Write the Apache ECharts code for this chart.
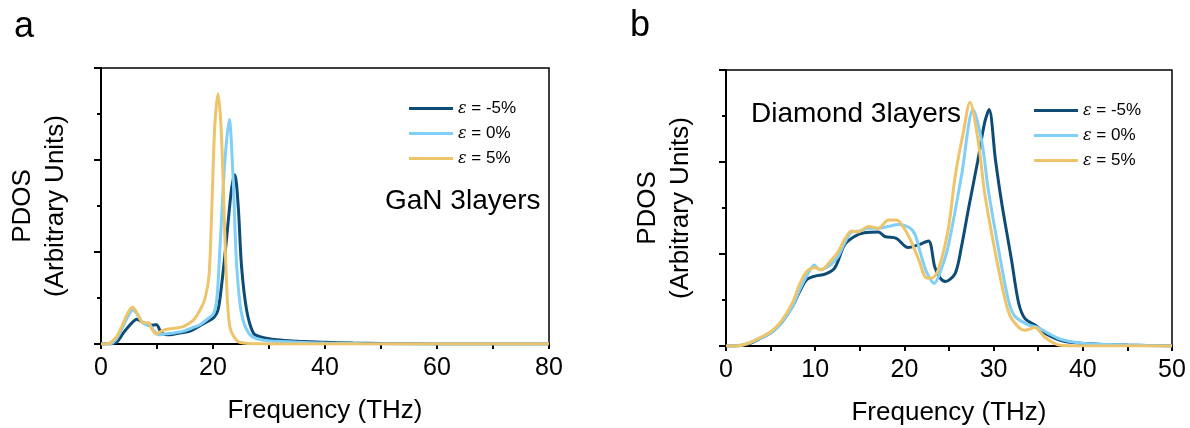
<!DOCTYPE html>
<html>
<head>
<meta charset="utf-8">
<title>PDOS GaN / Diamond</title>
<script src="https://cdn.jsdelivr.net/npm/echarts@6/dist/echarts.min.js"></script>
<style>
  html, body { margin: 0; padding: 0; background: #fff; }
  #chart { width: 1190px; height: 428px; }
</style>
</head>
<body>
<div id="chart"></div>
<script>
// legend names
const strainNames = ['ε = -5%', 'ε = 0%', 'ε = 5%'];
const lineColors = ['#0f4c75', '#80cff8', '#edc46a'];

// panel a: GaN 3layers, [frequency THz, pdos]
const ganM5 = [[0,0],[1.5,0],[2.8,0.02],[4.0,0.12],[5.2,0.21],[6.4,0.27],[7.6,0.23],[8.75,0.20],[9.9,0.21],[10.8,0.12],[12.3,0.10],[14.1,0.12],[15.9,0.14],[17.7,0.20],[19.2,0.25],[20.2,0.29],[20.9,0.37],[21.5,0.62],[22.4,1.13],[23.3,1.68],[23.9,1.84],[24.5,1.50],[25.1,0.84],[26.0,0.37],[27.2,0.12],[28.4,0.08],[31.4,0.045],[35,0.03],[40,0.02],[45,0.01],[50,0.005],[60,0],[80,0]];
const gan0 = [[0,0],[1.5,0],[2.8,0.06],[4.0,0.20],[4.9,0.31],[5.7,0.37],[6.4,0.33],[7.3,0.24],[8.0,0.21],[8.8,0.20],[9.5,0.14],[10.3,0.10],[11.5,0.11],[13,0.12],[14.7,0.14],[16.5,0.18],[17.7,0.21],[19.0,0.27],[20.1,0.33],[20.7,0.50],[21.25,1.05],[22.1,1.97],[22.9,2.44],[23.6,1.79],[24.2,0.88],[25.1,0.33],[26.6,0.10],[29,0.04],[35,0.02],[40,0.01],[45,0.005],[50,0],[80,0]];
const ganP5 = [[0,0],[1.0,0],[1.6,0.01],[2.8,0.08],[4.0,0.23],[4.9,0.35],[5.65,0.40],[6.4,0.34],[7.3,0.24],[7.9,0.23],[8.5,0.23],[9.0,0.17],[9.9,0.11],[11.1,0.15],[12.9,0.17],[14.7,0.19],[16.5,0.26],[17.7,0.37],[18.6,0.50],[19.3,0.75],[19.8,1.50],[20.3,2.35],[20.9,2.72],[21.4,2.40],[21.8,1.79],[22.4,0.70],[23.0,0.19],[24.2,0.04],[25.4,0.01],[30,0],[80,0]];

// panel b: Diamond 3layers
const diaM5 = [[0,0],[1,0],[2.5,0.02],[4,0.09],[5.1,0.15],[6.2,0.25],[7.4,0.42],[8.3,0.60],[9.05,0.72],[10.0,0.76],[11.1,0.78],[12.2,0.85],[13.3,1.10],[14.4,1.19],[15.5,1.23],[17.1,1.24],[17.8,1.19],[19.1,1.17],[20.4,1.07],[21.6,1.10],[22.7,1.14],[23.4,0.86],[24.0,0.74],[24.6,0.70],[25.7,0.79],[26.4,1.08],[27.2,1.50],[28.2,2.00],[29.0,2.43],[29.5,2.57],[30.2,2.03],[30.9,1.56],[32.0,0.94],[32.8,0.47],[33.5,0.30],[34.6,0.23],[36.1,0.12],[38.0,0.05],[41.7,0.02],[45,0.01],[50,0]];
const dia0 = [[0,0],[1,0],[2.5,0.03],[4,0.09],[5.1,0.15],[6.2,0.25],[7.4,0.42],[8.3,0.62],[9.05,0.76],[9.9,0.88],[10.5,0.83],[11.7,0.88],[12.6,0.98],[13.3,1.12],[14.1,1.24],[15,1.25],[16,1.28],[17.1,1.28],[18.2,1.30],[19.3,1.32],[20.5,1.29],[21.2,1.21],[21.8,1.01],[22.5,0.80],[23.35,0.68],[24.0,0.80],[24.9,1.08],[26.4,1.85],[27.7,2.57],[28.7,2.21],[29.4,1.70],[30.5,1.08],[31.65,0.50],[32.4,0.32],[33.9,0.23],[35.0,0.20],[36.1,0.14],[37.6,0.07],[39.9,0.03],[45,0.01],[50,0]];
const diaP5 = [[0,0],[1,0],[2.5,0.03],[4,0.10],[5.1,0.16],[6.2,0.27],[7.4,0.46],[8.3,0.68],[9.05,0.81],[10,0.85],[10.7,0.83],[11.7,0.92],[12.6,1.03],[13.3,1.16],[14.1,1.25],[14.8,1.24],[16,1.30],[17.1,1.28],[18.2,1.37],[19.1,1.37],[19.7,1.32],[20.6,1.17],[21.6,0.94],[22.5,0.74],[23.1,0.74],[23.8,0.83],[24.9,1.26],[25.7,1.85],[26.6,2.32],[27.35,2.65],[28.3,2.21],[29.0,1.66],[30.2,1.01],[31.3,0.50],[32.0,0.30],[33.5,0.17],[34.6,0.20],[35.8,0.09],[37.3,0.01],[40,0],[50,0]];

const ganSeries = [ganM5, gan0, ganP5];
const diaSeries = [diaM5, dia0, diaP5];

const FONT = "'Liberation Sans', Arial, sans-serif";

function xAxisCfg(gridIndex, max, interval) {
  return {
    type: 'value',
    gridIndex: gridIndex,
    min: 0,
    max: max,
    interval: interval,
    name: 'Frequency (THz)',
    nameLocation: 'middle',
    nameGap: 54,
    nameTextStyle: { fontSize: 26, color: '#000', fontFamily: FONT },
    axisLine: { show: true, onZero: false, lineStyle: { color: '#000', width: 2 } },
    axisTick: { show: true, length: 5, lineStyle: { color: '#000', width: 2 } },
    minorTick: { show: true, splitNumber: 2, length: 5, lineStyle: { color: '#000', width: 2 } },
    axisLabel: { fontSize: 25, color: '#000', margin: 12, fontFamily: FONT },
    splitLine: { show: false }
  };
}

function yAxisCfg(gridIndex) {
  return {
    type: 'value',
    gridIndex: gridIndex,
    min: 0,
    max: 3,
    interval: 1,
    name: 'PDOS\n(Arbitrary Units)',
    nameLocation: 'middle',
    nameGap: 29,
    nameTextStyle: { fontSize: 26, color: '#000', lineHeight: 33, fontFamily: FONT },
    axisLine: { show: true, lineStyle: { color: '#000', width: 2 } },
    axisTick: { show: true, length: 7, lineStyle: { color: '#000', width: 2 } },
    minorTick: { show: true, splitNumber: 2, length: 4, lineStyle: { color: '#000', width: 2 } },
    axisLabel: { show: false },
    splitLine: { show: false }
  };
}

function legendCfg(left, top) {
  return {
    orient: 'vertical',
    left: left,
    top: top,
    padding: 0,
    itemWidth: 44,
    itemHeight: 3,
    itemGap: 8,
    icon: 'rect',
    data: strainNames,
    selectedMode: false,
    formatter: function (name) {
      return '{e|ε}{t|' + name.slice(1) + '}';
    },
    textStyle: {
      color: '#000',
      fontSize: 17,
      rich: {
        e: { fontFamily: "'DejaVu Serif', 'Liberation Serif', serif", fontStyle: 'italic', fontSize: 16, color: '#000' },
        t: { fontFamily: FONT, fontSize: 17, color: '#000' }
      }
    }
  };
}

function makeSeries(list, axisIndex) {
  return list.map(function (data, i) {
    return {
      name: strainNames[i],
      type: 'line',
      xAxisIndex: axisIndex,
      yAxisIndex: axisIndex,
      data: data,
      smooth: 0.3,
      showSymbol: false,
      symbol: 'none',
      color: lineColors[i],
      lineStyle: { color: lineColors[i], width: 3 },
      z: 2 + i
    };
  });
}

const chart = echarts.init(document.getElementById('chart'));
chart.setOption({
  backgroundColor: '#fff',
  animation: false,
  textStyle: { fontFamily: FONT },
  title: [
    { text: 'a', left: 14, top: 9, padding: 0, textStyle: { fontSize: 36, fontWeight: 'normal', color: '#000', fontFamily: FONT } },
    { text: 'b', left: 630, top: 8, padding: 0, textStyle: { fontSize: 36, fontWeight: 'normal', color: '#000', fontFamily: FONT } },
    { text: 'GaN 3layers', left: 385, top: 187, padding: 0, textStyle: { fontSize: 28, fontWeight: 'normal', color: '#000', fontFamily: FONT } },
    { text: 'Diamond 3layers', left: 751, top: 100, padding: 0, textStyle: { fontSize: 28, fontWeight: 'normal', color: '#000', fontFamily: FONT } }
  ],
  legend: [legendCfg(409, 100), legendCfg(1034, 102)],
  grid: [
    { left: 101, top: 68, width: 448, height: 276, outerBoundsMode: 'none', show: true, borderColor: '#000', borderWidth: 1.5, backgroundColor: 'transparent' },
    { left: 726, top: 70, width: 446, height: 276, outerBoundsMode: 'none', show: true, borderColor: '#000', borderWidth: 1.5, backgroundColor: 'transparent' }
  ],
  xAxis: [xAxisCfg(0, 80, 20), xAxisCfg(1, 50, 10)],
  yAxis: [yAxisCfg(0), yAxisCfg(1)],
  series: makeSeries(ganSeries, 0).concat(makeSeries(diaSeries, 1))
});
</script>
</body>
</html>
